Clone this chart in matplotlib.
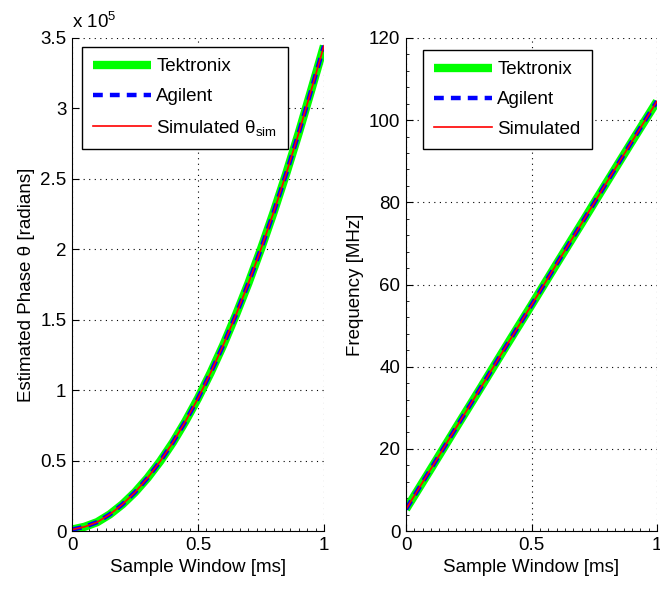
import matplotlib
matplotlib.use("Agg")
import matplotlib.pyplot as plt
from matplotlib.ticker import MultipleLocator, FuncFormatter

plt.rcParams['font.family'] = ['Liberation Sans', 'DejaVu Sans']
plt.rcParams['mathtext.fontset'] = 'custom'
plt.rcParams['mathtext.rm'] = 'Liberation Sans'
plt.rcParams['mathtext.it'] = 'Liberation Sans:italic'
plt.rcParams['font.size'] = 13.5

# Data (time in ms)
t = [0.0, 0.05, 0.1, 0.15, 0.2, 0.25, 0.3, 0.35, 0.4, 0.45, 0.5,
     0.55, 0.6, 0.65, 0.7, 0.75, 0.8, 0.85, 0.9, 0.95, 1.0]
phase = [1000, 3000, 6300, 11800, 18900, 27500, 37700, 49500, 62800, 77800, 94200,
         112300, 131900, 153200, 175900, 200300, 226200, 253700, 282700, 313400, 344500]
t_f = [0.0, 0.1, 0.2, 0.3, 0.4, 0.5, 0.6, 0.7, 0.8, 0.9, 1.0]
freq = [5.3, 15.2, 25.2, 35.1, 45.1, 55.0, 65.0, 74.9, 84.9, 94.8, 104.6]

fig = plt.figure(figsize=(6.6, 5.92), dpi=100)
ax1 = fig.add_axes([72/660, 61/592, 252/660, 493/592])
ax2 = fig.add_axes([406/660, 61/592, 251/660, 493/592])

def style(ax):
    for s in ['top', 'right']:
        ax.spines[s].set_visible(False)
    ax.grid(True, which='major', linestyle=(0, (1, 4)), color='black', linewidth=0.8)
    ax.tick_params(which='both', direction='in', top=False, right=False)
    ax.tick_params(which='major', length=5, pad=4)
    ax.tick_params(which='minor', length=2.5)
    ax.set_xlim(0, 1)
    ax.xaxis.set_major_locator(MultipleLocator(0.5))
    ax.xaxis.set_minor_locator(MultipleLocator(1/30))
    ax.xaxis.set_major_formatter(FuncFormatter(lambda v, p: '%g' % v))
    ax.set_xlabel('Sample Window [ms]')

legkw = dict(loc='upper left', fancybox=False, edgecolor='black', framealpha=1,
             handlelength=3.05, borderpad=0.6, labelspacing=0.68, handletextpad=0.3,
             borderaxespad=0)

# Left plot
ax1.plot(t, phase, color='#00ff00', lw=6, label='Tektronix', solid_capstyle='butt')
ax1.plot(t, phase, color='#0000ff', lw=3.2, ls=(0, (2.2, 1.6)), label='Agilent')
ax1.plot(t, phase, color='#ff0000', lw=1.2, label=r'Simulated θ$_{\mathrm{sim}}$')
style(ax1)
ax1.set_ylim(0, 3.5e5)
ax1.yaxis.set_major_locator(MultipleLocator(0.5e5))
ax1.yaxis.set_major_formatter(FuncFormatter(lambda v, p: '%g' % (v / 1e5)))
ax1.set_ylabel('Estimated Phase θ [radians]')
ax1.text(0.0, 1.012, r'x 10$^{5}$', transform=ax1.transAxes, ha='left', va='bottom')
leg1 = ax1.legend(bbox_to_anchor=(0.04, 0.982), **legkw)
leg1.get_frame().set_linewidth(1.0)

# Right plot
ax2.plot(t_f, freq, color='#00ff00', lw=6, label='Tektronix', solid_capstyle='butt')
ax2.plot(t_f, freq, color='#0000ff', lw=3.2, ls=(0, (2.2, 1.6)), label='Agilent')
ax2.plot(t_f, freq, color='#ff0000', lw=1.2, label='Simulated')
style(ax2)
ax2.set_ylim(0, 120)
ax2.yaxis.set_major_locator(MultipleLocator(20))
ax2.yaxis.set_minor_locator(MultipleLocator(4))
ax2.set_ylabel('Frequency [MHz]')
leg2 = ax2.legend(bbox_to_anchor=(0.068, 0.976), **legkw)
leg2.get_frame().set_linewidth(1.0)

fig.savefig('out.png', dpi=100)
